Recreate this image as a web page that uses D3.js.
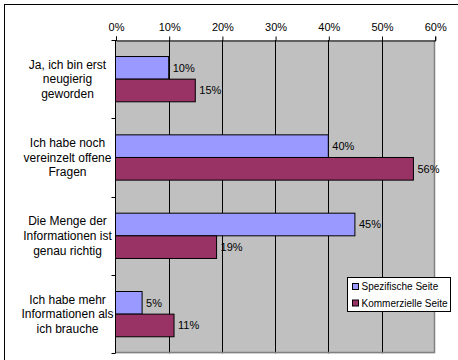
<!DOCTYPE html>
<html>
<head>
<meta charset="utf-8">
<script src="https://cdn.jsdelivr.net/npm/d3@7"></script>
<style>
  html, body { margin: 0; padding: 0; background: #fff; }
  svg { display: block; font-family: "Liberation Sans", Arial, sans-serif; }
</style>
</head>
<body>
<svg id="chart" width="458" height="360"></svg>
<script>
// Survey answers (one line per label row)
const categories = [
  ["Ja, ich bin erst", "neugierig", "geworden"],
  ["Ich habe noch", "vereinzelt offene", "Fragen"],
  ["Die Menge der", "Informationen ist", "genau richtig"],
  ["Ich habe mehr", "Informationen als", "ich brauche"]
];
const seriesNames = ["Spezifische Seite", "Kommerzielle Seite"];
const spezifisch = [0.10, 0.40, 0.45, 0.05];
const kommerziell = [0.15, 0.56, 0.19, 0.11];
const tickValues = [0, 0.1, 0.2, 0.3, 0.4, 0.5, 0.6];
const colors = ["#9999ff", "#993366"];

const svg = d3.select("#chart");
const catIds = categories.map((c, i) => i);
const seriesValues = [spezifisch, kommerziell];

const plot = { left: 115.5, right: 434.7, top: 40, bottom: 353.3 };

const x = d3.scaleLinear().domain([0, 0.6]).range([plot.left, plot.right]);
const y = d3.scaleBand().domain(catIds).range([plot.top, plot.bottom]).padding(0);
const ySub = d3.scaleBand().domain([0, 1]).range([0, y.bandwidth()])
  .paddingInner(0).paddingOuter(0.73);

// Outer frame
svg.append("rect")
  .attr("x", 4.5).attr("y", 4.5).attr("width", 470).attr("height", 370)
  .attr("fill", "none").attr("stroke", "#000").attr("stroke-width", 1);

// Plot background
svg.append("rect")
  .attr("x", plot.left).attr("y", plot.top)
  .attr("width", plot.right - plot.left).attr("height", plot.bottom - plot.top)
  .attr("fill", "#c0c0c0");

// Vertical gridlines
svg.append("g").selectAll("line")
  .data(tickValues.filter(t => t > 0 && t < 0.6))
  .join("line")
  .attr("x1", d => Math.round(x(d)) + 0.5).attr("x2", d => Math.round(x(d)) + 0.5)
  .attr("y1", plot.top).attr("y2", plot.bottom)
  .attr("stroke", "#000").attr("stroke-width", 1);

// Plot border (right and bottom)
svg.append("path")
  .attr("d", `M${Math.round(plot.right) - 0.5},${plot.top} V${Math.round(plot.bottom) - 0.5} H${plot.left}`)
  .attr("fill", "none").attr("stroke", "#808080").attr("stroke-width", 1.5);

// Top value axis
const xAxis = d3.axisTop(x).tickValues(tickValues)
  .tickFormat(d3.format(".0%")).tickSize(4).tickPadding(6);
const gx = svg.append("g")
  .attr("transform", `translate(0.5,${plot.top + 0.5})`)
  .call(xAxis);
gx.select(".domain").attr("stroke", "#000");
gx.selectAll(".tick line").attr("stroke", "#000");
gx.selectAll(".tick text")
  .attr("font-family", "Liberation Sans, Arial, sans-serif")
  .attr("font-size", 11).attr("fill", "#000");

// Left category axis with boundary ticks
const yAxisG = svg.append("g");
yAxisG.append("line")
  .attr("x1", plot.left).attr("x2", plot.left)
  .attr("y1", plot.top).attr("y2", plot.bottom)
  .attr("stroke", "#000");
const boundaries = catIds.map(i => y(i)).concat([plot.bottom]);
yAxisG.selectAll(".bt").data(boundaries).join("line")
  .attr("class", "bt")
  .attr("x1", plot.left - 4).attr("x2", plot.left)
  .attr("y1", d => Math.round(d) + 0.5).attr("y2", d => Math.round(d) + 0.5)
  .attr("stroke", "#000");

// Category labels
const lineH = 14.8;
const labels = svg.append("g").selectAll("text")
  .data(categories)
  .join("text")
  .attr("text-anchor", "middle")
  .attr("font-size", 12)
  .attr("fill", "#000");
labels.each(function(lines, i) {
  const cy = y(i) + y.bandwidth() / 2;
  d3.select(this).selectAll("tspan").data(lines).join("tspan")
    .attr("x", 67.5)
    .attr("y", (d, k) => cy + (k - (lines.length - 1) / 2) * lineH)
    .attr("dy", "0.35em")
    .text(d => d);
});

// Bars
const groups = svg.append("g").selectAll("g")
  .data(catIds)
  .join("g")
  .attr("transform", i => `translate(0,${y(i)})`);

groups.selectAll("rect")
  .data(i => seriesValues.map((vals, s) => ({ s, v: vals[i] })))
  .join("rect")
  .attr("x", x(0))
  .attr("y", d => ySub(d.s))
  .attr("width", d => x(d.v) - x(0))
  .attr("height", ySub.bandwidth())
  .attr("fill", d => colors[d.s])
  .attr("stroke", "#000").attr("stroke-width", 1);

groups.selectAll("text")
  .data(i => seriesValues.map((vals, s) => ({ s, v: vals[i] })))
  .join("text")
  .attr("x", d => x(d.v) + 4)
  .attr("y", d => ySub(d.s) + ySub.bandwidth() / 2)
  .attr("dy", "0.35em")
  .attr("font-size", 11)
  .attr("fill", "#000")
  .text(d => d3.format(".0%")(d.v));

// Legend
const legend = svg.append("g").attr("transform", "translate(347.5,277.5)");
legend.append("rect")
  .attr("width", 103).attr("height", 34)
  .attr("fill", "#fff").attr("stroke", "#000");
const items = legend.selectAll("g.item").data(seriesNames).join("g")
  .attr("class", "item")
  .attr("transform", (d, i) => `translate(5,${9 + i * 16.5})`);
items.append("rect")
  .attr("x", 0).attr("y", -3).attr("width", 6).attr("height", 6)
  .attr("fill", (d, i) => colors[i]).attr("stroke", "#000");
items.append("text")
  .attr("x", 9).attr("dy", "0.35em")
  .attr("font-size", 10).attr("fill", "#000")
  .text(d => d);
</script>
</body>
</html>
